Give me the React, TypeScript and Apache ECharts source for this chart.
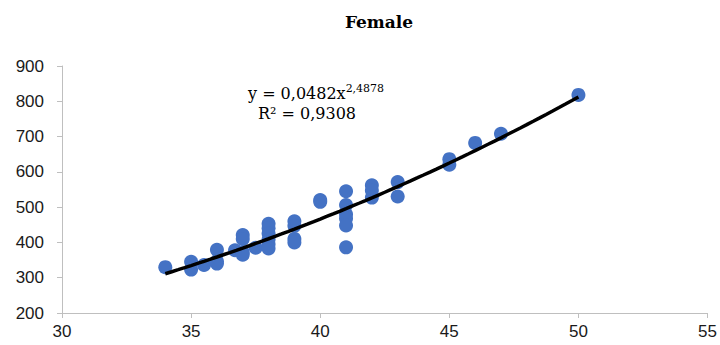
import React, { useEffect, useRef } from "react";
import * as echarts from "echarts";

const titleText = "Female";
const xValues = [
  34, 35, 35, 35.5, 36, 36, 36, 36.7, 37, 37, 37, 37, 37.5,
  38, 38, 38, 38, 38, 38, 39, 39, 39, 39, 40, 40,
  41, 41, 41, 41, 41, 41, 42, 42, 42, 43, 43, 45, 45, 46, 47, 50,
];
const yValues = [
  330, 345, 323, 336, 379, 347, 340, 378, 421, 410, 372, 365, 385,
  453, 440, 425, 408, 395, 383, 460, 447, 410, 400, 520, 515,
  545, 506, 480, 468, 448, 386, 562, 547, 527, 571, 530, 636, 620, 682, 708, 818,
];
// Power trendline shown on the chart: y = a * x^b
const trendA = 0.0482;
const trendB = 2.4878;
const trendFrom = 34;
const trendTo = 50;
const eqLine1 = "y = 0,0482x";
const eqSup = "2,4878";
const eqLine2 = "R² = 0,9308";

export default function App() {
  const ref = useRef<HTMLDivElement>(null);
  useEffect(() => {
    document.body.style.margin = "0";
    if (!ref.current) return;
    const chart = echarts.init(ref.current, undefined, { renderer: "svg" });
    const points = xValues.map((x, i) => [x, yValues[i]]);
    const trend: number[][] = [];
    for (let k = 0; k <= 64; k++) {
      const x = trendFrom + ((trendTo - trendFrom) * k) / 64;
      trend.push([x, trendA * Math.pow(x, trendB)]);
    }
    const axisColor = "#bfbfbf";
    const labelStyle = { color: "#1a1a1a", fontFamily: "Liberation Sans", fontSize: 17 };
    chart.setOption({
      animation: false,
      title: {
        text: titleText,
        left: 374,
        top: 8,
        textAlign: "center",
        textStyle: { fontFamily: "DejaVu Serif", fontWeight: "bold", fontSize: 17, color: "#000" },
      },
      grid: { left: 62, right: 8, top: 66, bottom: 32, containLabel: false },
      xAxis: {
        type: "value",
        min: 30,
        max: 55,
        interval: 5,
        axisLine: { show: true, lineStyle: { color: axisColor, width: 1 } },
        axisTick: { show: true, inside: false, length: 5, lineStyle: { color: axisColor } },
        splitLine: { show: false },
        axisLabel: { ...labelStyle, margin: 10 },
      },
      yAxis: {
        type: "value",
        min: 200,
        max: 900,
        interval: 100,
        axisLine: { show: true, lineStyle: { color: axisColor, width: 1 } },
        axisTick: { show: true, inside: false, length: 5, lineStyle: { color: axisColor } },
        splitLine: { show: false },
        axisLabel: { ...labelStyle, margin: 18 },
      },
      series: [
        {
          type: "scatter",
          data: points,
          symbol: "circle",
          symbolSize: 14,
          itemStyle: { color: "#4472C4", opacity: 1 },
          z: 2,
        },
        {
          type: "line",
          data: trend,
          showSymbol: false,
          lineStyle: { color: "#000", width: 3.5 },
          z: 3,
        },
      ],
      graphic: [
        {
          type: "text",
          left: 248,
          top: 83,
          style: {
            text: "{m|" + eqLine1 + "}{s|" + eqSup + "}",
            rich: {
              m: { fontFamily: "DejaVu Serif", fontSize: 16, color: "#000" },
              s: { fontFamily: "DejaVu Serif", fontSize: 11, color: "#000", padding: [0, 0, 10, 0] },
            },
          },
        },
        {
          type: "text",
          left: 258,
          top: 105,
          style: {
            text: eqLine2,
            fontFamily: "DejaVu Serif",
            fontSize: 16,
            fill: "#000",
          },
        },
      ],
    });
    return () => chart.dispose();
  }, []);
  return <div ref={ref} style={{ width: 720, height: 345 }} />;
}
